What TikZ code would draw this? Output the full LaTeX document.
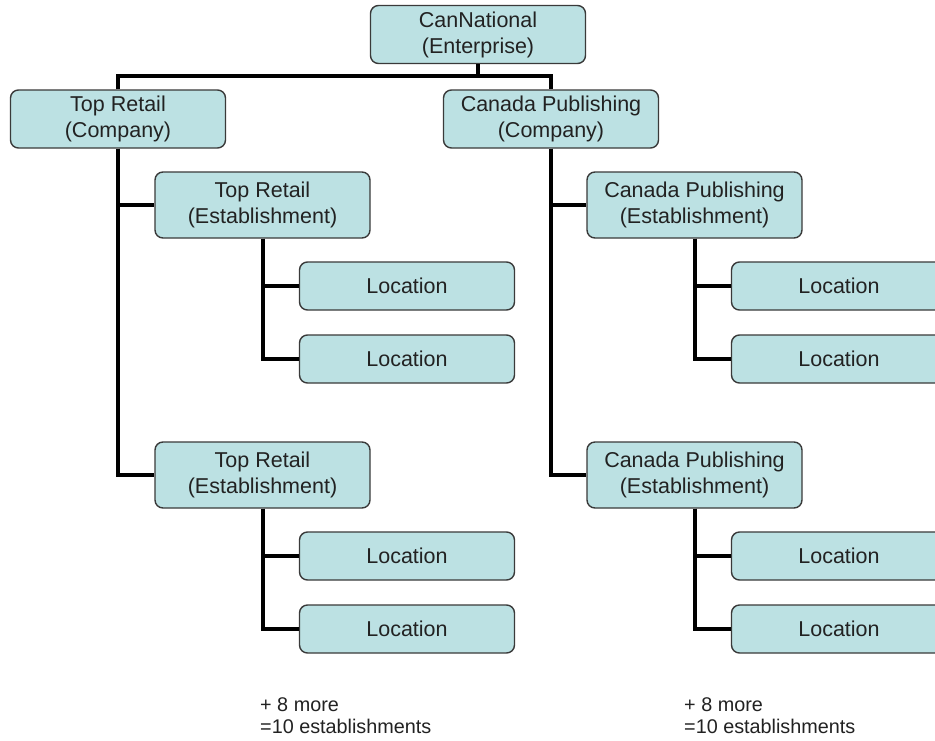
\documentclass[tikz,border=0pt]{standalone}
\usepackage{fontspec}
\setmainfont{Liberation Sans}
\definecolor{boxfill}{HTML}{BCE1E3}
\definecolor{boxline}{HTML}{3A3A3A}
\definecolor{txt}{HTML}{222222}
\begin{document}
\begin{tikzpicture}[x=1pt,y=-1pt,
  box/.style={draw=boxline,line width=1.4pt,fill=boxfill,rounded corners=8pt,
    minimum width=215pt,align=center,text=txt,font=\fontsize{21.5}{26}\selectfont,inner sep=0pt},
  twoline/.style={box,minimum height=58pt},
  estbox/.style={box,minimum height=66pt},
  locbox/.style={box,minimum height=48pt},
  conn/.style={line width=4pt,black,line join=miter},
  note/.style={anchor=north west,align=left,text=txt,font=\fontsize{19.8}{22}\selectfont,inner sep=0pt}]
\clip (0,0) rectangle (935,740);
\fill[white] (0,0) rectangle (935,740);
% top
\node[twoline] (cn) at (478,34.5) {CanNational\\(Enterprise)};
\node[twoline] (tr) at (118,119) {Top Retail\\(Company)};
\node[twoline] (cp) at (551,119) {Canada Publishing\\(Company)};
% left branch
\node[estbox] (te1) at (262.5,205) {Top Retail\\(Establishment)};
\node[locbox] (tl1) at (407,286) {Location};
\node[locbox] (tl2) at (407,359) {Location};
\node[estbox] (te2) at (262.5,475) {Top Retail\\(Establishment)};
\node[locbox] (tl3) at (407,556) {Location};
\node[locbox] (tl4) at (407,629) {Location};
% right branch
\node[estbox] (ce1) at (694.5,205) {Canada Publishing\\(Establishment)};
\node[locbox] (cl1) at (839,286) {Location};
\node[locbox] (cl2) at (839,359) {Location};
\node[estbox] (ce2) at (694.5,475) {Canada Publishing\\(Establishment)};
\node[locbox] (cl3) at (839,556) {Location};
\node[locbox] (cl4) at (839,629) {Location};
% notes
\node[note] (n1) at (260,697) {+ 8 more\\=10 establishments};
\node[note] (n2) at (684,697) {+ 8 more\\=10 establishments};
% connectors
\draw[conn] (cn.south) -- ++(0,12) coordinate (bus);
\draw[conn] (tr.north) |- (bus) -| (cp.north);
\draw[conn] (tr.south) |- (te1.west);
\draw[conn] (tr.south) |- (te2.west);
\draw[conn] (cp.south) |- (ce1.west);
\draw[conn] (cp.south) |- (ce2.west);
\draw[conn] (te1.south) |- (tl1.west);
\draw[conn] (te1.south) |- (tl2.west);
\draw[conn] (te2.south) |- (tl3.west);
\draw[conn] (te2.south) |- (tl4.west);
\draw[conn] (ce1.south) |- (cl1.west);
\draw[conn] (ce1.south) |- (cl2.west);
\draw[conn] (ce2.south) |- (cl3.west);
\draw[conn] (ce2.south) |- (cl4.west);
\end{tikzpicture}
\end{document}
